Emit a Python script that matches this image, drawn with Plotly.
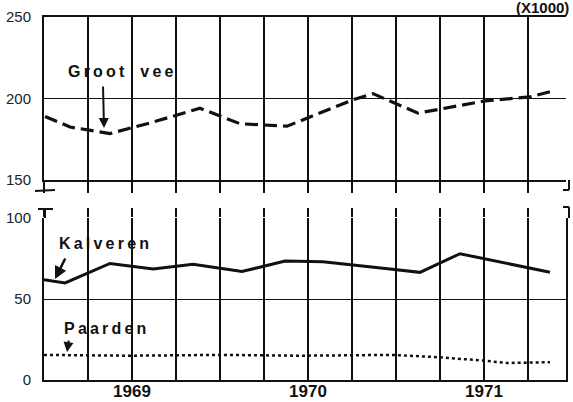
import plotly.graph_objects as go

# ---- data (decimal years, values x1000) ----
groot_x = [1968.506, 1968.648, 1968.875, 1969.102, 1969.386, 1969.614, 1969.881,
           1970.25, 1970.369, 1970.625, 1971.006, 1971.261, 1971.386]
groot_y = [189, 182.5, 178.5, 185, 194, 184.5, 183, 199, 203, 191, 198.5, 201, 204.5]

kalv_x = [1968.5, 1968.62, 1968.875, 1969.12, 1969.347, 1969.625, 1969.87,
          1970.085, 1970.466, 1970.636, 1970.864, 1971.261, 1971.375]
kalv_y = [62, 60, 72, 68.5, 71.5, 67, 73.5, 73, 68.5, 66.5, 78, 69, 66.5]

paard_x = [1968.5, 1968.989, 1969.5, 1969.955, 1970.483, 1970.75, 1970.994, 1971.131, 1971.375]
paard_y = [15.5, 15, 15.5, 15, 15.5, 14, 12, 10.5, 11]

year_ticks = [1969, 1970, 1971]
quarter_ticks = [1968.5 + 0.25 * i for i in range(12)]
x_range = [1968.5, 1971.466]

TS = "\u2009"
def spaced(s):
    return TS.join(list(s))

FONT = "Liberation Sans"
INK = "#111111"

fig = go.Figure()
fig.add_trace(go.Scatter(x=groot_x, y=groot_y, mode="lines", xaxis="x", yaxis="y",
                         line=dict(color=INK, width=3.2, dash="13px,6px"), hoverinfo="skip"))
fig.add_trace(go.Scatter(x=kalv_x, y=kalv_y, mode="lines", xaxis="x2", yaxis="y2",
                         line=dict(color=INK, width=3), hoverinfo="skip"))
fig.add_trace(go.Scatter(x=paard_x, y=paard_y, mode="lines", xaxis="x2", yaxis="y2",
                         line=dict(color=INK, width=2.5, dash="3px,3px"), hoverinfo="skip"))
fig.add_trace(go.Scatter(x=[x_range[0]], y=[None], mode="lines", xaxis="x3", yaxis="y2",
                         hoverinfo="skip", showlegend=False))

ticktext = [str(int(round(v))) if abs(v - round(v)) < 1e-9 else "" for v in quarter_ticks]

common_x = dict(range=x_range, tickvals=quarter_ticks, showgrid=True, gridcolor=INK,
                gridwidth=1.5, zeroline=False, linecolor=INK, linewidth=2, automargin=False)

fig.update_layout(
    width=573, height=402,
    margin=dict(l=44, r=7, t=17, b=22),
    paper_bgcolor="white", plot_bgcolor="white",
    showlegend=False,
    font=dict(family=FONT, color=INK),
    xaxis=dict(**common_x, domain=[0, 1], anchor="y", showticklabels=False,
               ticks="outside", ticklen=11, tickwidth=1.5, tickcolor=INK,
               showline=True, mirror=True),
    yaxis=dict(domain=[0.551, 1], range=[150, 250], tickvals=[150, 200, 250],
               showgrid=True, gridcolor=INK, gridwidth=1, zeroline=False,
               showline=True, linecolor=INK, linewidth=2, ticks="", automargin=False,
               tickfont=dict(size=15, color="#222"), ticklabelstandoff=8),
    xaxis2=dict(**common_x, domain=[0, 1], anchor="y2", matches="x",
                ticktext=ticktext, ticks="", showline=True,
                tickfont=dict(size=17, family=FONT, color=INK, weight="bold"),
                ticklabelstandoff=-5),
    xaxis3=dict(range=x_range, overlaying="x2", anchor="y2", side="top",
                tickvals=quarter_ticks, showticklabels=False, ticks="outside",
                ticklen=9, tickwidth=1.5, tickcolor=INK, showgrid=False,
                showline=False, zeroline=False, automargin=False),
    yaxis2=dict(domain=[0, 0.446], range=[0, 100], tickvals=[0, 50, 100],
                showgrid=True, gridcolor=INK, gridwidth=1, zeroline=False,
                showline=True, mirror=True, linecolor=INK, linewidth=2, ticks="",
                automargin=False,
                tickfont=dict(size=15, color="#222"), ticklabelstandoff=8),
)

lab_font = dict(family=FONT, size=16, color=INK, weight="bold")
fig.add_annotation(text=spaced("Groot") + "\u2002\u2002" + spaced("vee"), xref="x", yref="y",
                   x=1968.5 + (121 - 44) / 176, y=250 - (71 - 17) / 1.63,
                   showarrow=False, font=lab_font)
fig.add_annotation(text="", xref="x", yref="y", x=1968.5 + (104 - 44) / 176,
                   y=250 - (128 - 17) / 1.63, ax=-1, ay=-43, showarrow=True,
                   arrowhead=2, arrowsize=1, arrowwidth=2, arrowcolor=INK)
fig.add_annotation(text=spaced("Kalveren"), xref="x2", yref="y2",
                   x=1968.5 + (104 - 44) / 176, y=100 - (243 - 218) / 1.62,
                   showarrow=False, font=lab_font)
fig.add_annotation(text="", xref="x2", yref="y2", x=1968.5 + (55 - 44) / 176,
                   y=100 - (279 - 218) / 1.62, ax=11, ay=-22, showarrow=True,
                   arrowhead=2, arrowsize=1, arrowwidth=2.5, arrowcolor=INK)
fig.add_annotation(text=spaced("Paarden"), xref="x2", yref="y2",
                   x=1968.5 + (105 - 44) / 176, y=100 - (328 - 218) / 1.62,
                   showarrow=False, font=lab_font)
fig.add_annotation(text="", xref="x2", yref="y2", x=1968.5 + (67 - 44) / 176,
                   y=100 - (352 - 218) / 1.62, ax=2, ay=-13, showarrow=True,
                   arrowhead=2, arrowsize=1, arrowwidth=2, arrowcolor=INK)
fig.add_annotation(text="(X1000)", xref="paper", yref="paper",
                   x=1, y=1, xanchor="right", yanchor="middle", xshift=5, yshift=10,
                   showarrow=False, font=dict(family=FONT, size=15, color=INK, weight="bold"))

# axis-break marks (decoration)
def px(xp):
    return (xp - 44) / 522
def py(yp):
    return (380 - yp) / 363
brk = dict(color=INK, width=2)
for x0, y0, x1, y1 in [(44, 180, 44, 191), (35, 191, 55, 190),
                       (38, 209, 53, 209), (45, 209, 45, 218),
                       (569, 180, 569, 190), (563, 190, 569, 190),
                       (563, 207, 569, 207), (569, 207, 569, 218)]:
    fig.add_shape(type="line", xref="paper", yref="paper", x0=px(x0), y0=py(y0),
                  x1=px(x1), y1=py(y1), line=brk)

fig.write_html("out.html", config={"displayModeBar": False},
               post_script="document.body.style.margin='0px';")
